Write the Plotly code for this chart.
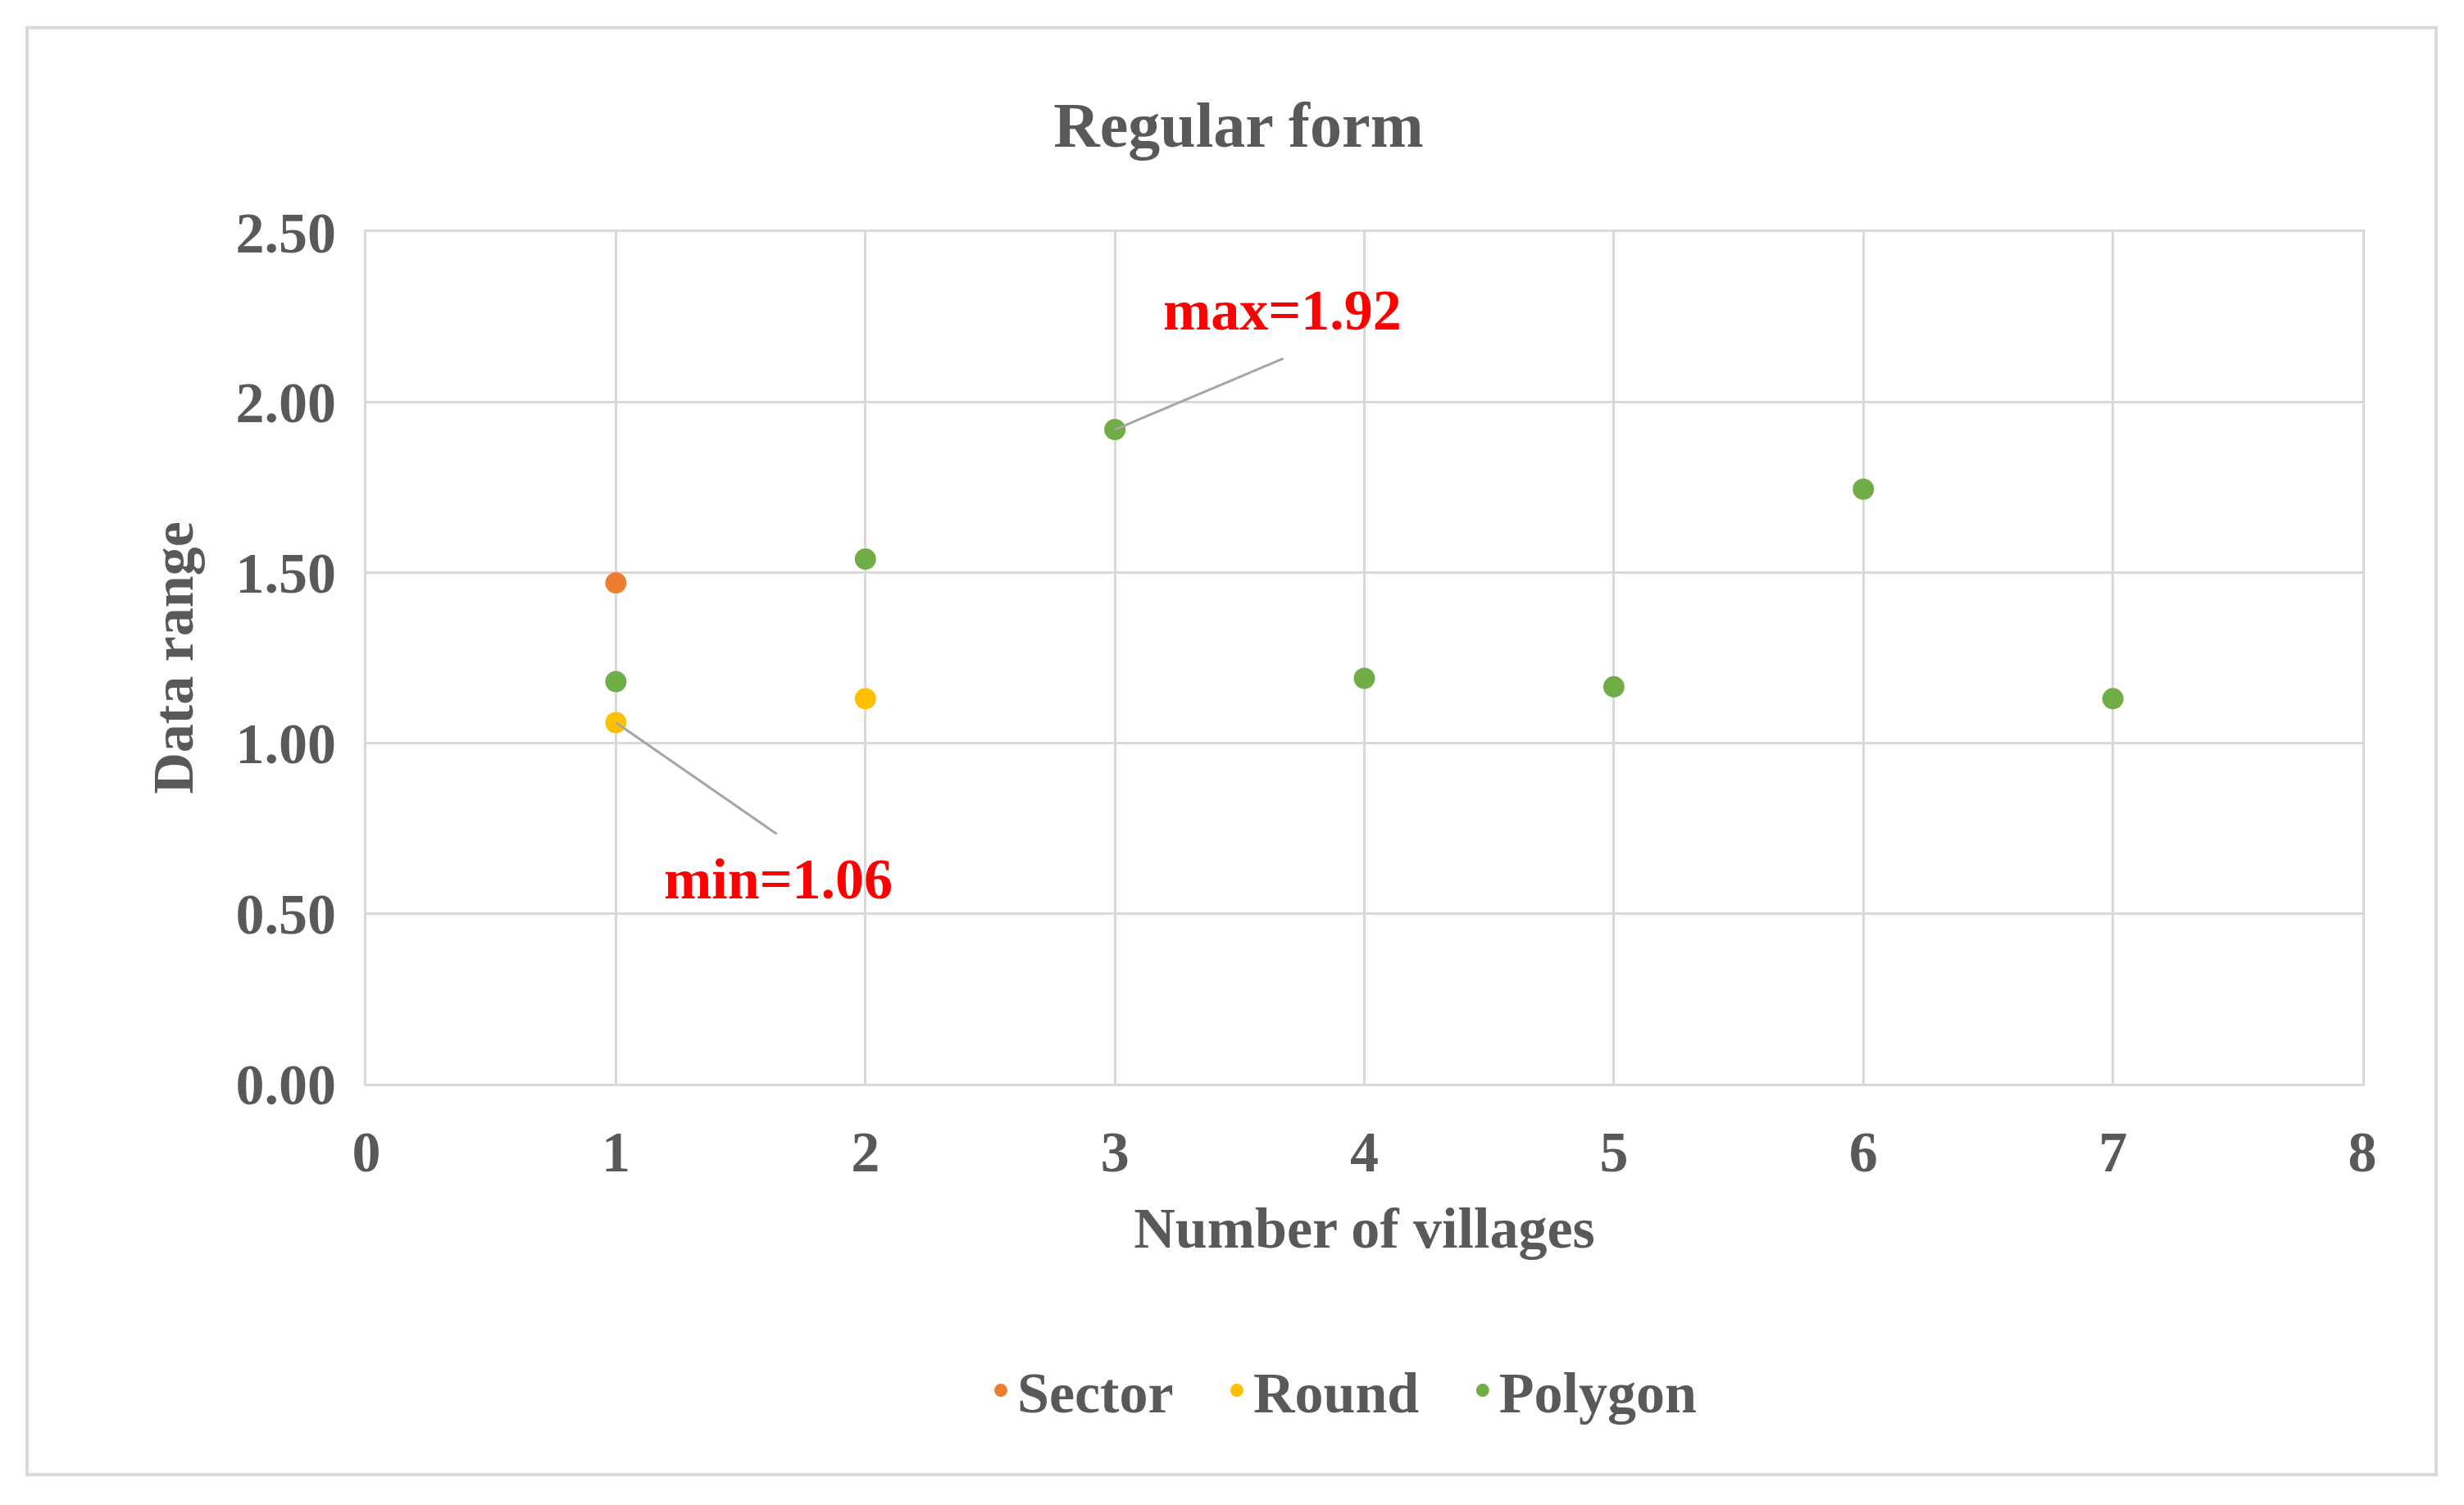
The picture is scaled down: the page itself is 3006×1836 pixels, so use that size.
import plotly.graph_objects as go

sector_x = [1]
sector_y = [1.47]
round_x = [1, 2]
round_y = [1.06, 1.13]
polygon_x = [1, 2, 3, 4, 5, 6, 7]
polygon_y = [1.18, 1.54, 1.92, 1.19, 1.165, 1.745, 1.13]
y_ticks = [0, 0.5, 1.0, 1.5, 2.0, 2.5]
y_labels = ["<b>%.2f</b>" % v for v in y_ticks]

F = "Liberation Serif"
TC = "#595959"
fig = go.Figure()
for name, xs, ys, c in [("Sector", sector_x, sector_y, "#ED7D31"),
                        ("Round", round_x, round_y, "#FFC000"),
                        ("Polygon", polygon_x, polygon_y, "#70AD47")]:
    fig.add_trace(go.Scatter(x=xs, y=ys, mode="markers", name="<b>" + name + "</b>   ",
                             marker=dict(color=c, size=26)))

fig.add_annotation(x=3, y=1.92, ax=3.68, ay=2.13, axref="x", ayref="y",
                   showarrow=True, arrowhead=0, arrowwidth=3, arrowcolor="#A6A6A6", text="")
fig.add_annotation(x=3.67, y=2.27, text="<b>max=1.92</b>", showarrow=False,
                   font=dict(family=F, size=70, color="#FF0000"))
fig.add_annotation(x=1, y=1.06, ax=1.65, ay=0.73, axref="x", ayref="y",
                   showarrow=True, arrowhead=0, arrowwidth=3, arrowcolor="#A6A6A6", text="")
fig.add_annotation(x=1.65, y=0.6, text="<b>min=1.06</b>", showarrow=False,
                   font=dict(family=F, size=70, color="#FF0000"))

fig.add_shape(type="rect", xref="paper", yref="paper", x0=-0.170, x1=1.037, y0=-0.459, y1=1.24,
              line=dict(color="#D9D9D9", width=4))

fig.update_layout(
    width=3006, height=1836, paper_bgcolor="white", plot_bgcolor="white",
    margin=dict(l=439, r=132, t=275, b=522),
    title=dict(text="<b>Regular form</b>", x=0.5, xanchor="center", y=0.922, yanchor="middle",
               font=dict(family=F, size=78, color=TC)),
    font=dict(family=F, color=TC),
    xaxis=dict(range=[0, 8], dtick=1, showgrid=True, gridcolor="#D9D9D9", gridwidth=3,
               zeroline=False, showline=True, linecolor="#D9D9D9", linewidth=3, mirror=True,
               tickfont=dict(family=F, size=70, color=TC), ticks="", ticklabelstandoff=20,
               tickprefix="<b>", ticksuffix="</b>",
               title=dict(text="<b>Number of villages</b>", font=dict(family=F, size=70, color=TC), standoff=30)),
    yaxis=dict(range=[0, 2.5], tickvals=y_ticks, ticktext=y_labels, showgrid=True, gridcolor="#D9D9D9",
               gridwidth=3, zeroline=False, showline=True, linecolor="#D9D9D9", linewidth=3, mirror=True,
               tickfont=dict(family=F, size=70, color=TC), ticks="", ticklabelstandoff=20,
               title=dict(text="<b>Data range</b>", font=dict(family=F, size=70, color=TC), standoff=30)),
    showlegend=True,
    legend=dict(orientation="h", x=0.5, xanchor="center", y=-0.36, yanchor="middle",
                font=dict(family=F, size=70, color=TC), itemwidth=30),
)
fig.write_html("out.html")
